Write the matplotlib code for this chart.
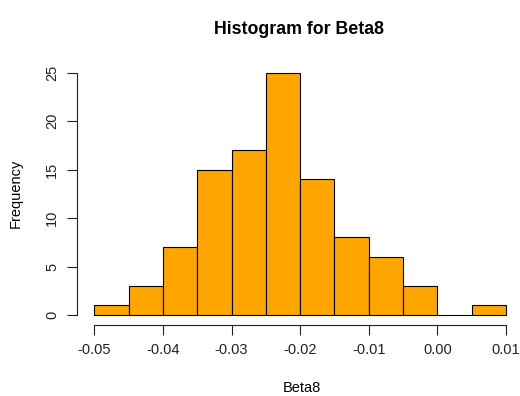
import matplotlib
matplotlib.use("Agg")
import matplotlib.pyplot as plt
import numpy as np

plt.rcParams['font.family'] = ['Liberation Sans', 'DejaVu Sans']

bin_edges = [-0.05, -0.045, -0.04, -0.035, -0.03, -0.025, -0.02, -0.015, -0.01, -0.005, 0.0, 0.005, 0.01]
counts = [1, 3, 7, 15, 17, 25, 14, 8, 6, 3, 0, 1]
xticks = [-0.05, -0.04, -0.03, -0.02, -0.01, 0.00, 0.01]
xticklabels = ["-0.05", "-0.04", "-0.03", "-0.02", "-0.01", "0.00", "0.01"]
yticks = [0, 5, 10, 15, 20, 25]

W, H = 520, 396
fig = plt.figure(figsize=(W/100, H/100), dpi=100)
x0, x1 = 77.15, 509.4
ytop, ybot = 63.0, 324.7
ax = fig.add_axes([x0/W, (H-ybot)/H, (x1-x0)/W, (ybot-ytop)/H])

edges = np.array(bin_edges)
ax.bar(edges[:-1], counts, width=np.diff(edges), align='edge',
       color='#FFA500', edgecolor='black', linewidth=0.8)

ax.set_xlim(-0.0525, 0.0105)
ax.set_ylim(-1, 26)
for s in ['top', 'right']:
    ax.spines[s].set_visible(False)
ax.spines['left'].set_bounds(0, 25)
ax.spines['bottom'].set_bounds(-0.05, 0.01)
ax.set_xticks(xticks)
ax.set_xticklabels(xticklabels)
ax.set_yticks(yticks)
ax.set_yticklabels([str(v) for v in yticks], rotation=90, va='center')
ax.tick_params(length=7, width=0.8, labelsize=10.5, pad=6, colors='#222222')
ax.spines['left'].set_color('#222222')
ax.spines['bottom'].set_color('#222222')

fig.text(16/W, 1-193/H, "Frequency", rotation=90, ha='center', va='center', fontsize=10.5)
fig.text(302/W, 1-388/H, "Beta8", ha='center', va='center', fontsize=10.5)
fig.text(299/W, 1-29/H, "Histogram for Beta8", ha='center', va='center', fontsize=12.8, fontweight='bold')

fig.savefig("out.png", dpi=100)
